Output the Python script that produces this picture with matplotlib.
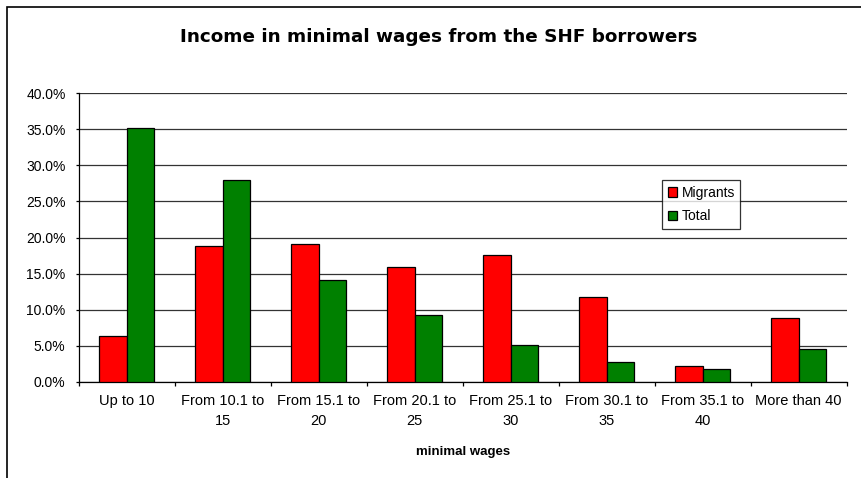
import numpy as np
import matplotlib.pyplot as plt
from matplotlib.patches import Rectangle
from matplotlib.ticker import FuncFormatter, FixedLocator

plt.rcParams['font.family'] = ['Liberation Sans', 'DejaVu Sans']

categories = ['Up to 10', 'From 10.1 to\n15', 'From 15.1 to\n20', 'From 20.1 to\n25',
              'From 25.1 to\n30', 'From 30.1 to\n35', 'From 35.1 to\n40', 'More than 40']
migrants = [6.3, 18.8, 19.1, 15.9, 17.6, 11.8, 2.2, 8.9]
total = [35.2, 28.0, 14.1, 9.2, 5.1, 2.8, 1.7, 4.6]

fig = plt.figure(figsize=(8.62, 4.78), dpi=100)
ax = fig.add_axes([78.7/862, 1 - 381.7/478, 768/862, 288.4/478])

# outer chart frame (cut off on the right and bottom)
fig.patches.append(Rectangle((7/862, -0.1), 1.2, 1 - 7/478 + 0.1, transform=fig.transFigure,
                             fill=False, edgecolor='black', linewidth=1.2))

x = np.arange(len(categories))
w = 1/3.5
ax.bar(x - w/2, migrants, w, color='#ff0000', edgecolor='black', linewidth=0.9, label='Migrants', zorder=3)
ax.bar(x + w/2, total, w, color='#008000', edgecolor='black', linewidth=0.9, label='Total', zorder=3)

ax.set_xlim(-0.5, len(categories) - 0.5)
ax.set_ylim(0, 40)
ax.set_yticks(np.arange(0, 41, 5))
ax.yaxis.set_major_formatter(FuncFormatter(lambda v, p: f'{v:.1f}%'))
ax.yaxis.grid(True, color='#333333', linewidth=0.9, zorder=0)

ax.xaxis.set_major_locator(FixedLocator(np.arange(-0.5, len(categories), 1)))
ax.xaxis.set_major_formatter(plt.NullFormatter())
ax.xaxis.set_minor_locator(FixedLocator(x))
ax.set_xticklabels(categories, minor=True, fontsize=10.5, linespacing=1.55, va='top')
ax.tick_params(axis='x', which='minor', length=0, pad=8.5)
ax.tick_params(axis='x', which='major', length=3, direction='out', width=0.9)
ax.tick_params(axis='y', length=2.5, direction='out', width=0.9, labelsize=10, pad=7)

for s in ['top', 'right']:
    ax.spines[s].set_visible(False)
for s in ['left', 'bottom']:
    ax.spines[s].set_color('black')
    ax.spines[s].set_linewidth(0.9)

ax.set_xlabel('minimal wages', fontsize=9.5, fontweight='bold', labelpad=13)
fig.text(0.509, 1 - 41.7/478, 'Income in minimal wages from the SHF borrowers',
         ha='center', va='baseline', fontsize=13.2, fontweight='bold', family='DejaVu Sans')

leg = ax.legend(loc='upper left', bbox_to_anchor=((662 - 78.7)/768, 1 - (180 - 93.3)/288.4),
                fontsize=10, frameon=True, fancybox=False, handlelength=0.7, handleheight=0.7,
                handletextpad=0.3, borderpad=0.4, labelspacing=0.7, borderaxespad=0)
leg.get_frame().set_edgecolor('black')
leg.get_frame().set_linewidth(0.9)

fig.savefig('out.png', dpi=100)
